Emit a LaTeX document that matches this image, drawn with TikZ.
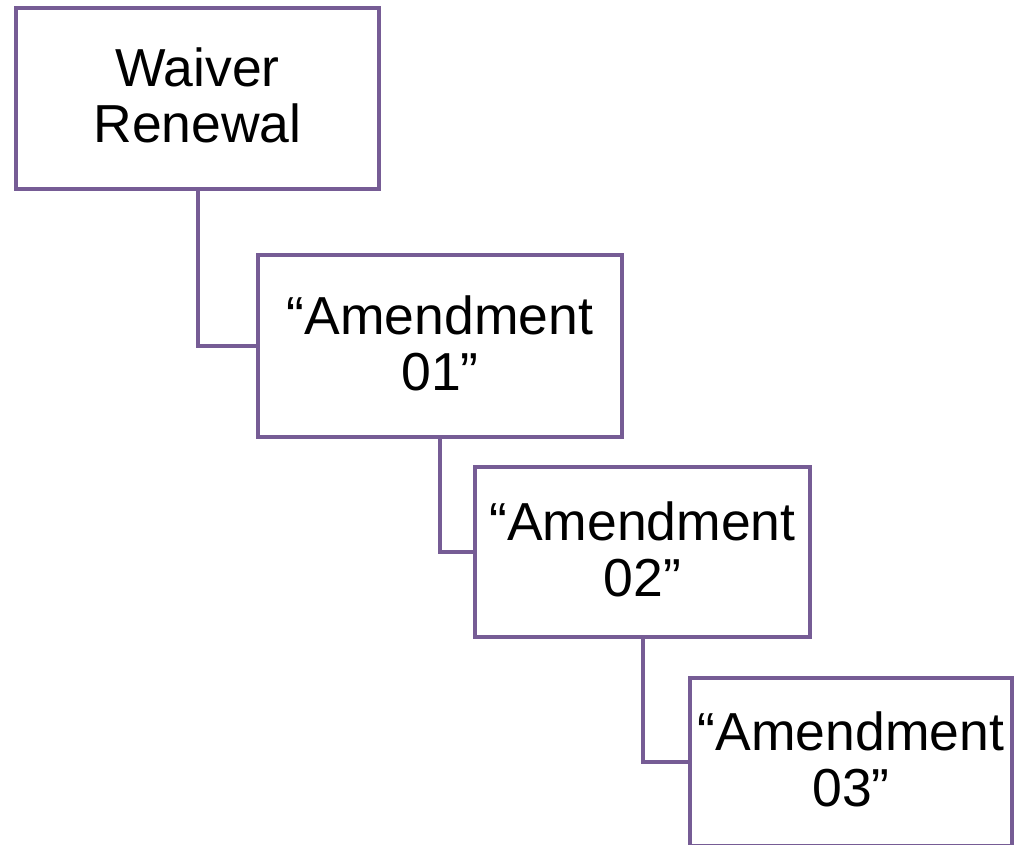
\documentclass[tikz,border=0pt]{standalone}
\usepackage{fontspec}
\setmainfont{Liberation Sans}
\usepackage{tikz}
\definecolor{purp}{RGB}{118,92,149}

\begin{document}
\begin{tikzpicture}[x=1pt,y=-1pt,line width=4pt,
                    font=\fontsize{53.5}{56}\selectfont]
  \tikzstyle{doc}=[draw=purp,fill=white,align=center,inner sep=0pt]
  \useasboundingbox (0,0) rectangle (1015,845);

  \node[doc,minimum width=363pt,minimum height=181pt] (W)  at (197.5,98.5) {Waiver\\Renewal\vspace{6pt}};
  \node[doc,minimum width=364pt,minimum height=182pt] (A1) at (440,346)   {“Amendment\\01”\vspace{6pt}};
  \node[doc,minimum width=335pt,minimum height=170pt] (A2) at (642.5,552) {“Amendment\\02”\vspace{6pt}};
  \node[doc,minimum width=322pt,minimum height=168pt] (A3) at (851,762)   {“Amendment\\03”\vspace{6pt}};

  \draw[purp] (W.south)  |- (A1.west);
  \draw[purp] (A1.south) |- (A2.west);
  \draw[purp] (A2.south) |- (A3.west);

\end{tikzpicture}
\end{document}
